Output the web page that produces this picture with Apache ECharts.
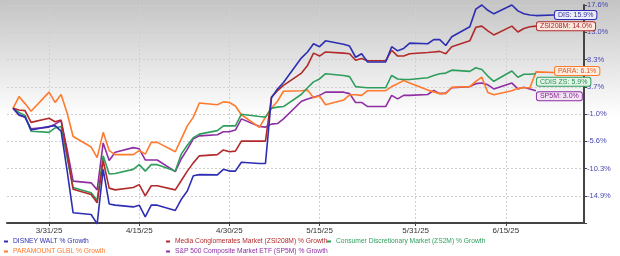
<!DOCTYPE html>
<html><head><meta charset="utf-8">
<script src="https://cdn.jsdelivr.net/npm/echarts@6/dist/echarts.min.js"></script>
<style>html,body{margin:0;padding:0;background:#fff}#c{width:620px;height:256px}</style>
</head><body><div id="c"></div>
<script>
const tradeDates = ['3/25/25','3/26/25','3/27/25','3/28/25',
 '3/31/25','4/1/25','4/2/25','4/3/25','4/4/25',
 '4/7/25','4/8/25','4/9/25','4/10/25','4/11/25',
 '4/14/25','4/15/25','4/16/25','4/17/25','4/18/25',
 '4/21/25','4/22/25','4/23/25','4/24/25','4/25/25',
 '4/28/25','4/29/25','4/30/25','5/1/25','5/2/25',
 '5/5/25','5/6/25','5/7/25','5/8/25','5/9/25',
 '5/12/25','5/13/25','5/14/25','5/15/25','5/16/25',
 '5/19/25','5/20/25','5/21/25','5/22/25','5/23/25',
 '5/26/25','5/27/25','5/28/25','5/29/25','5/30/25',
 '6/2/25','6/3/25','6/4/25','6/5/25','6/6/25',
 '6/9/25','6/10/25','6/11/25','6/12/25','6/13/25',
 '6/16/25','6/17/25','6/18/25','6/19/25','6/20/25',
 '6/23/25'];

const disValues = [0,-1.1,-1.5,-3.7,
 -3.1,-2.95,-3.9,-10.6,-17.8,
 -18.1,-19.7,-10.4,-16.3,-16.5,
 -16.8,-16.5,-18.5,-16.5,-16.5,
 -17.4,-15.5,-14.1,-11.5,-11.3,
 -11.35,-10.4,-10.7,-10.7,-9.2,
 -9.4,-9.4,1.8,3.3,4.4,
 8.6,9.6,11.0,10.5,11.5,
 10.9,10.6,8.7,9.3,7.9,
 7.9,10.5,9.8,10.2,11.1,
 11.0,11.7,11.7,10.7,12.2,
 13.9,16.9,17.6,16.7,16.1,
 17.6,16.6,16.1,15.9,15.8,
 15.9];

const mediaValues = [0,-0.3,-0.4,-2.4,
 -1.7,-2.3,-2.0,-7.8,-13.8,
 -14.7,-16.1,-8.9,-13.6,-13.9,
 -13.5,-13.0,-14.9,-13.2,-13.2,
 -13.9,-12.3,-10.7,-9.3,-8.1,
 -7.9,-7.1,-7.4,-7.3,-5.6,
 -5.6,-5.6,1.9,3.0,3.9,
 6.0,7.3,9.4,8.9,9.6,
 9.4,9.3,8.2,8.5,8.1,
 8.1,9.9,8.9,8.9,9.3,
 9.5,9.6,9.7,9.3,10.5,
 11.5,13.8,14.0,13.2,12.5,
 14.0,13.0,13.6,13.9,14.0];

const consDiscValues = [0,-0.7,-1.2,-3.9,
 -4.1,-3.35,-3.1,-8.4,-13.5,
 -14.4,-15.7,-8.1,-11.2,-11.1,
 -10.4,-9.6,-10.7,-9.6,-9.6,
 -10.7,-7.8,-6.3,-5.0,-4.4,
 -3.8,-3.0,-3.0,-3.0,-1.0,
 -1.4,-1.5,0.0,0.2,0.3,
 2.4,3.5,4.5,5.0,5.9,
 5.6,5.4,3.7,3.6,3.5,
 3.5,5.6,5.0,4.9,4.9,
 5.2,5.6,5.9,6.0,6.5,
 6.3,6.9,6.6,5.5,4.6,
 6.35,5.3,5.8,5.8,5.9];

const paraValues = [0,2.0,0.8,-0.5,
 2.75,1.0,2.35,-0.8,-4.8,
 -6.6,-8.4,-4.1,-7.2,-7.9,
 -7.9,-7.2,-7.8,-5.8,-5.8,
 -7.4,-5.2,-3.0,-1.5,0.9,
 0.6,1.1,1.0,0.4,-1.1,
 -3.25,-1.5,0.0,1.2,2.9,
 3.0,3.1,1.8,2.1,0.6,
 1.4,2.3,2.3,2.2,3.0,
 3.0,3.7,4.2,4.75,4.3,
 3.1,2.8,2.5,2.5,3.6,
 3.7,4.6,5.3,2.7,2.3,
 3.0,3.4,3.5,3.5,6.2,
 6.1];

const sp5mValues = [0,-1.2,-1.5,-3.5,
 -3.2,-2.7,-2.1,-7.0,-12.4,
 -12.7,-13.9,-5.9,-8.9,-7.5,
 -6.7,-6.9,-8.8,-8.8,-8.8,
 -10.8,-8.6,-7.0,-5.2,-4.7,
 -4.5,-4.0,-4.0,-3.7,-1.8,
 -3.1,-3.2,-2.7,-2.6,-1.8,
 1.2,1.6,1.9,2.2,2.75,
 2.75,2.5,1.0,1.0,0.3,
 0.3,2.2,1.6,2.2,2.2,
 2.35,3.05,2.5,2.6,3.5,
 3.7,4.2,4.3,4.0,3.3,
 4.3,3.3,3.6,3.3,3.0];

const seriesNames = ['DISNEY WALT % Growth','Media Conglomerates Market (ZSI208M) % Growth','Consumer Discretionary Market (ZS2M) % Growth','PARAMOUNT GLBL % Growth','S&P 500 Composite Market ETF (SP5M) % Growth'];
const endLabelTexts = ['DIS: 15.9%','ZSI208M: 14.0%','CDIS ZS: 5.9%','PARA: 6.1%','SP5M: 3.0%'];
const xTickLabels = ['3/31/25','4/15/25','4/30/25','5/15/25','5/31/25','6/15/25'];
const yTickLabels = ['-14.9%','-10.3%','-5.6%','-1.0%','3.7%','8.3%','13.0%','17.6%'];

const yInterval = 4.643;
const yMin = -19.542;
const yMax = 17.602;

const axisDays = [];
for (let d = new Date(Date.UTC(2025,2,24)); d.getTime() <= Date.UTC(2025,5,28); d.setUTCDate(d.getUTCDate()+1)) {
  axisDays.push((d.getUTCMonth()+1)+'/'+d.getUTCDate()+'/25');
}

const colors = ['#2e2eb2','#b22a2a','#2f9e5c','#ff7a2c','#8e2ea2'];
const boxBg = ['#ececf8','#fbe8df','#e4f3e8','#fdeee2','#f2e6f5'];
const textCol = ['#3030a8','#a82424','#2a9050','#e8561e','#86268f'];
const labelOffsets = [[0,0],[0,0],[0,8],[0,-1.5],[0,5.5]];
const FONT = '"Liberation Sans", Arial, sans-serif';

function pairs(vals){ return vals.map((v,i)=>[axisDays.indexOf(tradeDates[i]), v]); }
const allValues = [disValues, mediaValues, consDiscValues, paraValues, sp5mValues];

const isTick = (i, v) => xTickLabels.indexOf(v) >= 0;

const series = allValues.map((vals, k) => ({
  name: seriesNames[k], type: 'line', data: pairs(vals), showSymbol: false, symbol: 'none',
  clip: false, z: 5 - k + (k===0?3:0),
  lineStyle: { width: 1.6, color: colors[k] }, itemStyle: { color: colors[k] },
  endLabel: {
    show: true, formatter: endLabelTexts[k], distance: 1, offset: labelOffsets[k],
    fontSize: 7, fontFamily: FONT, color: textCol[k],
    backgroundColor: boxBg[k], borderColor: colors[k], borderWidth: 1, borderRadius: 2,
    padding: [1, 3, 0, 3]
  }
}));

const legendPos = [[4,238],[166,238],[327,238],[4,248],[166,248]];
const legends = seriesNames.map((n, k) => ({
  data: [{ name: n, textStyle: { color: colors[k] } }],
  left: legendPos[k][0], top: legendPos[k][1], padding: 0,
  icon: 'rect', itemWidth: 4, itemHeight: 2,
  textStyle: { fontSize: 6.7, fontFamily: FONT }, selectedMode: false
}));

const chart = echarts.init(document.getElementById('c'), null, { renderer: 'canvas' });
chart.setOption({
  animation: false,
  backgroundColor: new echarts.graphic.LinearGradient(0, 0, 0, 1, [
    { offset: 0, color: '#c4c4c4' }, { offset: 0.46, color: '#ffffff' }, { offset: 1, color: '#ffffff' }
  ]),
  grid: { left: 7, right: 36, top: 5, bottom: 33, containLabel: false },
  legend: legends,
  xAxis: {
    type: 'category', data: axisDays, boundaryGap: false,
    axisLine: { show: true, onZero: false, lineStyle: { color: '#444', width: 2 } },
    axisTick: { show: true, interval: isTick, length: 3, lineStyle: { color: '#444' } },
    axisLabel: { interval: isTick, color: '#333', fontSize: 8, fontFamily: FONT, margin: 4 },
    splitLine: { show: true, interval: isTick, lineStyle: { color: '#d0d0d0', type: [2, 2] } }
  },
  yAxis: {
    type: 'value', position: 'right', min: yMin, max: yMax, interval: yInterval,
    axisLine: { show: true, lineStyle: { color: '#444', width: 2 } },
    axisTick: { show: true, length: 3, lineStyle: { color: '#444' } },
    axisLabel: {
      color: '#4848b4', fontSize: 7.5, fontFamily: FONT, margin: 3,
      formatter: v => { const idx = Math.round((v - yMin) / yInterval); return idx >= 1 && idx <= yTickLabels.length && Math.abs(v - (yMin + idx*yInterval)) < 0.05 ? yTickLabels[idx-1] : ''; }
    },
    splitLine: { show: true, lineStyle: { color: '#d0d0d0', type: [2, 2] } }
  },
  series: series
});
</script></body></html>
